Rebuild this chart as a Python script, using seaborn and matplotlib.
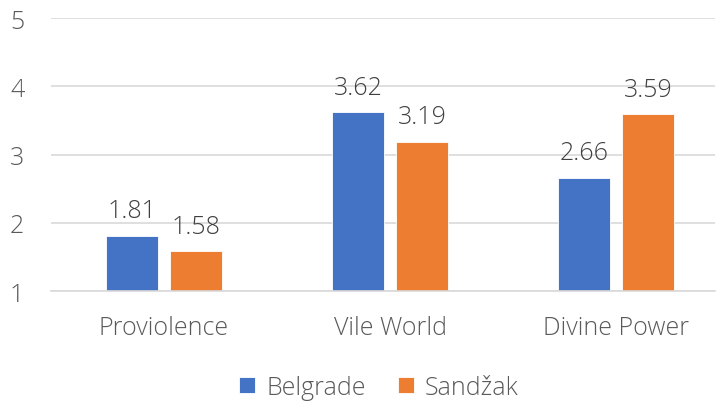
import matplotlib
matplotlib.use("Agg")
import matplotlib.pyplot as plt
import seaborn as sns
import pandas as pd

categories = ["Proviolence", "Vile World", "Divine Power"]
belgrade = [1.81, 3.62, 2.66]
sandzak = [1.58, 3.19, 3.59]
series = ["Belgrade", "Sandžak"]
colors = ["#4472C4", "#ED7D31"]

df = pd.DataFrame({
    "category": categories * 2,
    "value": belgrade + sandzak,
    "series": [series[0]] * 3 + [series[1]] * 3,
})

sns.set_theme(style="white")
plt.rcParams['font.family'] = ['Open Sans', 'DejaVu Sans']
plt.rcParams['font.weight'] = 'light'

FS = 18
fig = plt.figure(figsize=(7.25, 4.02), dpi=100)
ax = fig.add_axes([0.0703, 0.2736, 0.916, 0.6791])

sns.barplot(data=df, x="category", y="value", hue="series", palette=colors,
            saturation=1, width=0.566, gap=0.2, ax=ax, legend=True,
            edgecolor="white", linewidth=0.6)

ax.set_ylim(1, 5)
ax.set_xlim(-0.5, 2.438)
ax.set_yticks([1, 2, 3, 4, 5])
ax.yaxis.grid(True, color="#D9D9D9", linewidth=1.2)
ax.set_axisbelow(True)
for s in ["top", "right", "left"]:
    ax.spines[s].set_visible(False)
ax.spines["bottom"].set_color("#D9D9D9")
ax.spines["bottom"].set_linewidth(1.2)
ax.set_xlabel("")
ax.set_ylabel("")
ax.tick_params(axis="both", colors="#595959", labelsize=FS, length=0)
ax.tick_params(axis="x", pad=17)
ax.tick_params(axis="y", pad=29.5)
for lbl in ax.get_yticklabels():
    lbl.set_horizontalalignment("left")
    lbl.set_fontweight("light")
for lbl in ax.get_xticklabels():
    lbl.set_fontweight("light")

for cont in ax.containers:
    ax.bar_label(cont, labels=[f"{v:.2f}" for v in cont.datavalues],
                 padding=9, fontsize=FS, color="#404040", fontweight="light")

handles, labels = ax.get_legend_handles_labels()
leg = ax.legend(handles, labels, loc="upper center", bbox_to_anchor=(0.494, -0.225),
                ncol=2, frameon=False, fontsize=FS, handlelength=0.62, handleheight=0.62,
                columnspacing=1.3, handletextpad=0.45, labelcolor="#595959")
for t in leg.get_texts():
    t.set_fontweight("light")

fig.savefig("out.png", dpi=100)
